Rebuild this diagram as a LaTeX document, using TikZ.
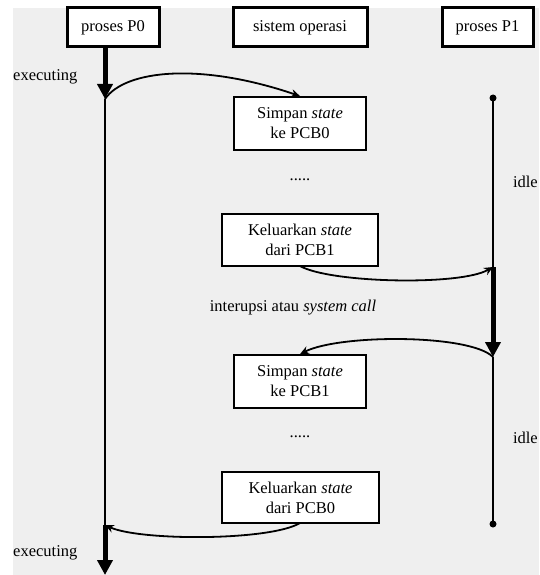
\documentclass[tikz,border=0pt]{standalone}
\usepackage{fontspec}
\setmainfont{Liberation Serif}
\usetikzlibrary{arrows.meta}
\definecolor{bggray}{HTML}{EFEFEF}
\tikzset{
  txt/.style={font=\fontsize{16.5}{20}\selectfont, inner sep=0pt},
  hdr/.style={txt, draw=black, fill=white, line width=3pt, rectangle, minimum height=39pt},
  opbox/.style={txt, draw=black, fill=white, line width=1.8pt, rectangle, align=center},
  thinline/.style={line width=1.8pt},
  thickarrow/.style={line width=5pt, -{Triangle[width=15pt,length=15pt]}},
  curvearrow/.style={line width=1.8pt, -{Stealth[width=8pt,length=9pt]}},
  dotmark/.style={circle, fill=black, inner sep=0pt, minimum size=7pt}
}
\begin{document}
\begin{tikzpicture}[x=1pt,y=-1pt]
\useasboundingbox (0,0) rectangle (539,575);
\fill[white] (0,0) rectangle (539,575);
\fill[bggray] (13,8) rectangle (539,575);

% headers
\node[hdr, minimum width=92pt] (p0) at (113,27.5) {proses P0};
\node[hdr, minimum width=134pt] (os) at (300,27.5) {sistem operasi};
\node[hdr, minimum width=91pt] (p1) at (487.5,27.5) {proses P1};

% OS boxes
\node[opbox, minimum width=132pt, minimum height=53pt] (b1) at (300,123.5) {Simpan \textit{state}\\ke PCB0};
\node[opbox, minimum width=156pt, minimum height=52pt] (b2) at (300,240) {Keluarkan \textit{state}\\dari PCB1};
\node[opbox, minimum width=132pt, minimum height=53pt] (b3) at (300,381.5) {Simpan \textit{state}\\ke PCB1};
\node[opbox, minimum width=157pt, minimum height=51pt] (b4) at (300.5,497.5) {Keluarkan \textit{state}\\dari PCB0};

% timeline coordinates
\coordinate (A0) at (105,47);
\coordinate (A1) at (105,99);
\coordinate (A2) at (105,525);
\coordinate (A3) at (105,575);
\coordinate (B0) at (493,98);
\coordinate (B1) at (493,267);
\coordinate (B2) at (493,357);
\coordinate (B3) at (493,524);
\coordinate (b2s) at (300,266);
\coordinate (b4s) at (300,523);

% P0 timeline
\draw[thickarrow] (A0) -- (A1);
\draw[thinline] (A1) -- (A2);
\draw[thickarrow] (A2) -- (A3);

% P1 timeline
\draw[thinline] (B0) -- (B1);
\draw[thickarrow] (B1) -- (B2);
\draw[thinline] (B2) -- (B3);
\node[dotmark] (d0) at (B0) {};
\node[dotmark] (d1) at (B3) {};

% switching curves
\draw[curvearrow] (A1) .. controls (125,70) and (200,62) .. (b1.north);
\draw[curvearrow] (b2s) .. controls (330,283) and (460,286) .. (B1);
\draw[curvearrow] (B2) .. controls (470,334) and (340,334) .. (b3.north);
\draw[curvearrow] (b4s) .. controls (270,541) and (140,541) .. (A2);

% labels
\node[txt, anchor=west] (ex1) at (13,77) {executing};
\node[txt, anchor=west] (ex2) at (13,553) {executing};
\node[txt] (dots1) at (300,180) {.....};
\node[txt] (dots2) at (300,437) {.....};
\node[txt, anchor=east] (idle1) at (538,182) {idle};
\node[txt, anchor=east] (idle2) at (538,438) {idle};
\node[txt] (intr) at (293,308) {interupsi atau \textit{system call}};
\end{tikzpicture}
\end{document}
